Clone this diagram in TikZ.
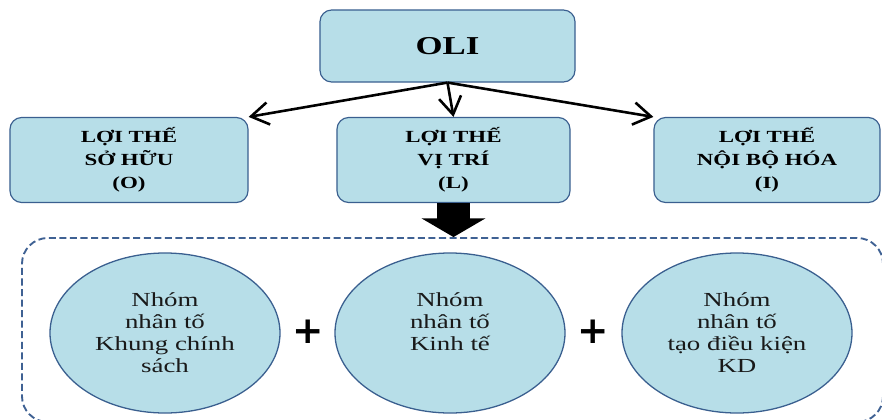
\documentclass[tikz,border=0pt]{standalone}
\usepackage{fontspec}
\setmainfont{Liberation Serif}
\newfontfamily\widefont[FakeStretch=1.35]{Liberation Serif}
\newfontfamily\plusfont{DejaVu Sans}
\usetikzlibrary{shapes.geometric, arrows.meta}
\usepackage{xcolor}

\definecolor{boxfill}{HTML}{B7DEE8}
\definecolor{boxline}{HTML}{3A5F8F}
\definecolor{dashline}{HTML}{3F6193}

\begin{document}
\begin{tikzpicture}[x=0.03cm, y=-0.03cm,
    advbox/.style={rectangle, rounded corners=10pt, draw=boxline, line width=1pt,
        fill=boxfill, minimum height=2.55cm},
    advtext/.style={align=center, inner sep=0pt,
        font=\widefont\bfseries\fontsize{14.5}{19.5}\selectfont},
    factor/.style={ellipse, draw=boxline, line width=1.1pt, fill=boxfill,
        minimum width=6.9cm, minimum height=4.8cm, inner sep=0pt, align=center,
        font=\widefont\fontsize{17}{18.8}\selectfont, text=black!90},
    grpbox/.style={rectangle, rounded corners=22pt, draw=dashline, line width=1.6pt,
        dash pattern=on 6pt off 3pt},
    link/.style={-{Straight Barb[length=15pt,width=19pt]}, line width=2.2pt},
    plussign/.style={inner sep=0pt, font=\plusfont\bfseries\fontsize{32}{32}\selectfont}]

        % Page frame (882 x 420 px)
        \clip (0,0) rectangle (882,420);

        % Top node
        \node[advbox, minimum width=7.65cm, minimum height=2.16cm,
            font=\widefont\bfseries\fontsize{22}{26}\selectfont] (oli) at (447.5, 46) {OLI};

        % The three advantages
        \node[advbox, minimum width=7.14cm] (own) at (129, 160) {};
        \node[advbox, minimum width=6.99cm] (loc) at (453.5, 160) {};
        \node[advbox, minimum width=6.78cm] (intl) at (767, 160) {};

        \node[advtext] (owntxt) at (own.center) {LỢI THẾ\\ SỞ HỮU\\ (O)};
        \node[advtext] (loctxt) at (loc.center) {LỢI THẾ\\ VỊ TRÍ\\ (L)};
        \node[advtext] (intltxt) at (intl.center) {LỢI THẾ\\ NỘI BỘ HÓA\\ (I)};

        % Arrows from OLI
        \draw[link] (oli.south) -- (own.north east);
        \draw[link] (oli.south) -- (loc.north);
        \draw[link] (oli.south) -- (intl.north west);

        % Dashed group of factors
        \node[grpbox, minimum width=25.83cm, minimum height=5.52cm] (grp) at (452.5, 330) {};

        % Big arrow down to the group
        \draw[line width=29pt, -{Triangle[length=16pt,width=54pt]}]
            (loc.south) -- (loc.south |- grp.north);

        % Factor groups
        \node[factor] (fpol) at (165, 333) {Nhóm\\ nhân tố\\ Khung chính\\ sách};
        \node[factor] (fecon) at (450, 333) {Nhóm\\ nhân tố\\ Kinh tế\\ ~};
        \node[factor] (fbiz) at (737, 333) {Nhóm\\ nhân tố\\ tạo điều kiện\\ KD};

        % Plus signs
        \node[plussign] (plusa) at (308, 332) {+};
        \node[plussign] (plusb) at (593, 332) {+};
\end{tikzpicture}
\end{document}
